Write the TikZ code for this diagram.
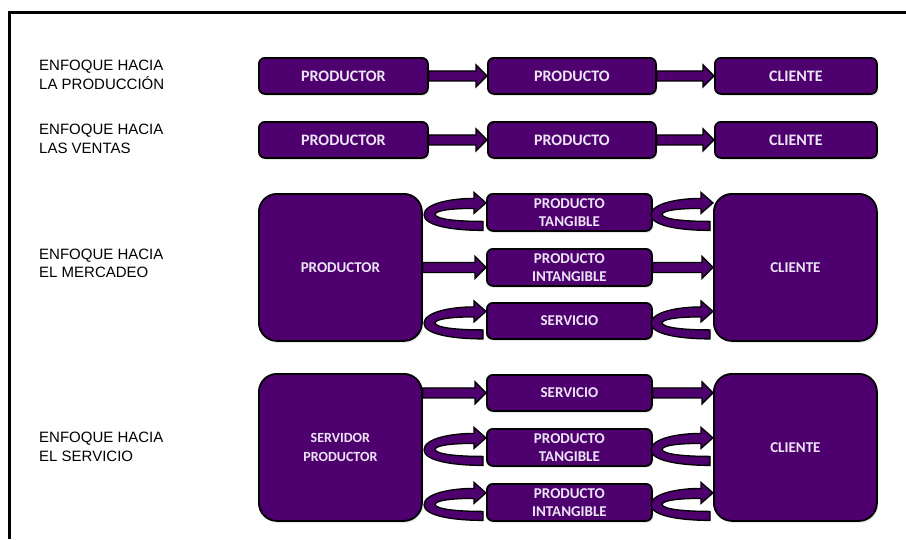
\documentclass[tikz,border=0pt]{standalone}
\usepackage{fontspec}
\setmainfont{Liberation Sans}
\newfontfamily\boxfont{Carlito}
\usetikzlibrary{shadows,calc}
\definecolor{plum}{RGB}{78,0,110}
\definecolor{boxtext}{RGB}{236,228,246}

% straight block arrow from the side of one box to the west side of another
\newcommand{\flecha}[2]{%
  \draw[arrowshape] let \p1=#1, \p2=#2 in
    (\x1,\y2+5pt) -- (\x2-11pt,\y2+5pt) -- (\x2-11pt,\y2+11pt) -- (\x2,\y2)
    -- (\x2-11pt,\y2-11pt) -- (\x2-11pt,\y2-5pt) -- (\x1,\y2-5pt) -- cycle;}

% curled block arrow ending at the given point (its tip sits at that point)
\newcommand{\curva}[1]{%
  \draw[arrowshape, shift={#1}]
    (0,-9.5) -- (-12,-20) -- (-12,-14)
    .. controls (-35,-14) and (-62,-9) .. (-62,2.5)
    .. controls (-62,13) and (-35,18) .. (-3,18)
    -- (-3,9)
    .. controls (-28,9) and (-50,7) .. (-51,2)
    .. controls (-50,-2) and (-35,-4) .. (-12,-4)
    -- (-12,1) -- cycle;}

\begin{document}
\begin{tikzpicture}[x=1pt,y=-1pt,
  box/.style={draw=black, line width=1.8pt, fill=plum, rounded corners=6pt,
    text=boxtext, font=\boxfont\bfseries\fontsize{15}{18.5}\selectfont,
    align=center, inner sep=0pt, anchor=north west,
    drop shadow={opacity=0.18, shadow xshift=1.5pt, shadow yshift=-2pt}},
  bigbox/.style={box, rounded corners=18pt},
  rowbox/.style={box, font=\boxfont\bfseries\fontsize{16}{19}\selectfont},
  lbl/.style={anchor=west, align=left, inner sep=0pt,
    font=\fontsize{15}{18.5}\selectfont},
  arrowshape/.style={draw=black, line width=1.3pt, fill=plum, line join=miter},
  frameline/.style={line width=3pt}]

\useasboundingbox (0,0) rectangle (906,539);
\fill[white] (0,0) rectangle (906,539);
\draw[frameline] (906,12) -- (9,12) -- (9,539);

% row labels
\node[lbl] (l1) at (39,75)    {ENFOQUE HACIA\\LA PRODUCCIÓN};
\node[lbl] (l2) at (39,139)   {ENFOQUE HACIA\\LAS VENTAS};
\node[lbl] (l3) at (39,263.5) {ENFOQUE HACIA\\EL MERCADEO};
\node[lbl] (l4) at (39,447)   {ENFOQUE HACIA\\EL SERVICIO};

% production and sales chains
\node[rowbox, minimum width=169, minimum height=36] (pa) at (258,57)  {PRODUCTOR};
\node[rowbox, minimum width=168, minimum height=36] (pb) at (487,57)  {PRODUCTO};
\node[rowbox, minimum width=162, minimum height=36] (pc) at (714,57)  {CLIENTE};
\node[rowbox, minimum width=169, minimum height=36] (va) at (258,121) {PRODUCTOR};
\node[rowbox, minimum width=168, minimum height=36] (vb) at (487,121) {PRODUCTO};
\node[rowbox, minimum width=162, minimum height=36] (vc) at (714,121) {CLIENTE};

% marketing chain
\node[bigbox, minimum width=163, minimum height=147] (mp) at (258,193) {PRODUCTOR};
\node[box, minimum width=165, minimum height=37] (mt) at (486,193) {PRODUCTO\\TANGIBLE};
\node[box, minimum width=165, minimum height=37] (mi) at (486,248) {PRODUCTO\\INTANGIBLE};
\node[box, minimum width=165, minimum height=36] (ms) at (486,302) {SERVICIO};
\node[bigbox, minimum width=163, minimum height=147] (mc) at (713,193) {CLIENTE};

% service chain
\node[bigbox, minimum width=163, minimum height=147,
      font=\boxfont\bfseries\fontsize{14}{19}\selectfont] (sp) at (258,373) {SERVIDOR\\PRODUCTOR};
\node[box, minimum width=165, minimum height=36] (ss) at (486,374) {SERVICIO};
\node[box, minimum width=165, minimum height=37] (st) at (486,428) {PRODUCTO\\TANGIBLE};
\node[box, minimum width=165, minimum height=37] (si) at (486,483) {PRODUCTO\\INTANGIBLE};
\node[bigbox, minimum width=163, minimum height=147] (sc) at (713,373) {CLIENTE};

% connectors
\flecha{(pa.east)}{(pb.west)}
\flecha{(pb.east)}{(pc.west)}
\flecha{(va.east)}{(vb.west)}
\flecha{(vb.east)}{(vc.west)}

\curva{(mt.west)}
\flecha{(mp.east)}{(mi.west)}
\curva{(ms.west)}
\curva{(mc.west |- mt.east)}
\flecha{(mi.east)}{(mc.west |- mi.east)}
\curva{(mc.west |- ms.east)}

\flecha{(sp.east)}{(ss.west)}
\curva{(st.west)}
\curva{(si.west)}
\flecha{(ss.east)}{(sc.west |- ss.east)}
\curva{(sc.west |- st.east)}
\curva{(sc.west |- si.east)}
\end{tikzpicture}
\end{document}
